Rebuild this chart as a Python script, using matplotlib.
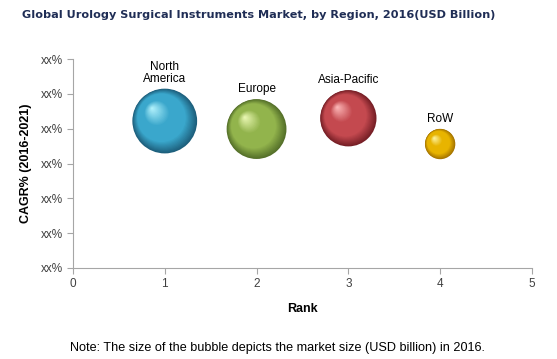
import matplotlib
matplotlib.use("Agg")
import matplotlib.pyplot as plt
import matplotlib.transforms as mtransforms
from matplotlib.colors import to_rgb
import numpy as np

regions = ["North\nAmerica", "Europe", "Asia-Pacific", "RoW"]
rank = [1, 2, 3, 4]
cagr = [4.22, 3.99, 4.30, 3.56]          # position on the xx% scale (0-6)
market_size = [4.1, 3.5, 3.1, 0.9]       # relative bubble area
y_ticks = [0, 1, 2, 3, 4, 5, 6]
y_tick_labels = ["xx%"] * 7

# (edge/dark, base, highlight)
COLORS = [
    ("#1d5f7c", "#3aa7cc", "#b8f6ff"),
    ("#55702a", "#92b44c", "#eefbb8"),
    ("#761f26", "#c4494f", "#ffbcbc"),
    ("#a57400", "#e8b400", "#fff7a8"),
]

plt.rcParams["font.family"] = ["Liberation Sans", "DejaVu Sans"]

fig = plt.figure(figsize=(5.57, 3.59), dpi=100)
ax = fig.add_axes([0.131, 0.2535, 0.824, 0.582])

SCALE = 530  # points^2 per unit of market size
n_layers = 40
for x, y, m, (dark, base, light), name in zip(rank, cagr, market_size, COLORS, regions):
    s0 = m * SCALE
    r_pt = np.sqrt(s0) / 2
    d, b, l = map(np.array, (to_rgb(dark), to_rgb(base), to_rgb(light)))
    for k in range(n_layers):
        t = k / n_layers
        if t < 0.25:
            c = d + (b - d) * (t / 0.25)
        elif t < 0.6:
            c = b
        else:
            c = b + (l - b) * ((t - 0.6) / 0.4)
        size = s0 * (1 - t) ** 2
        shift = t * 0.4 * r_pt
        tr = mtransforms.offset_copy(ax.transData, fig=fig, x=-shift, y=shift, units="points")
        ax.scatter([x], [y], s=size, color=c, edgecolors="none", transform=tr, zorder=3 + k * 0.01)
    ax.annotate(name, (x, y), xytext=(0, r_pt + 3), textcoords="offset points",
                ha="center", va="bottom", fontsize=8.5, color="#000000", linespacing=1.0)

ax.set_xlim(0, 5)
ax.set_ylim(0, 6)
ax.set_xticks(range(6))
ax.set_yticks(y_ticks)
ax.set_yticklabels(y_tick_labels)
for side in ("top", "right"):
    ax.spines[side].set_visible(False)
for side in ("left", "bottom"):
    ax.spines[side].set_color("#a6a6a6")
ax.tick_params(colors="#a6a6a6", labelcolor="#404040", labelsize=8.5, length=4, direction="out")
ax.set_xlabel("Rank", fontsize=9, fontweight="bold", labelpad=9)
ax.set_ylabel("CAGR% (2016-2021)", fontsize=9, fontweight="bold", labelpad=6)

fig.text(0.465, 0.958, "Global Urology Surgical Instruments Market, by Region, 2016(USD Billion)",
         ha="center", va="center", fontsize=8.15, fontweight="bold", color="#1f2d55",
         family="DejaVu Sans")
fig.text(0.126, 0.03, "Note: The size of the bubble depicts the market size (USD billion) in 2016.",
         ha="left", va="center", fontsize=9.1, color="#000000")

fig.savefig("out.png", dpi=100)
plt.close(fig)
